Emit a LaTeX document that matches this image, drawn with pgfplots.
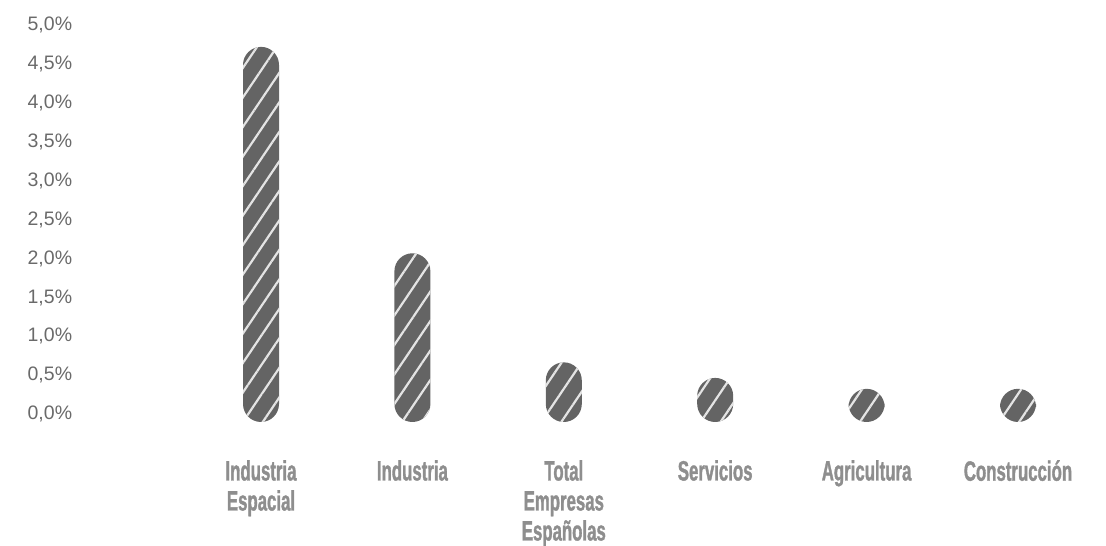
\documentclass[border=0pt]{standalone}
\usepackage{pgfplots}
\pgfplotsset{compat=1.18}
\usepackage{pgfplotstable}
\usetikzlibrary{patterns.meta}
\usepackage{fontspec}
\setmainfont{Liberation Sans}
\newfontfamily\condfont[FakeStretch=0.6,FakeBold=1.2]{Liberation Sans Bold}
\definecolor{barc}{HTML}{646464}
\definecolor{hatchc}{HTML}{E4E4E4}
\definecolor{ticklab}{HTML}{6A6A6A}
\definecolor{catlab}{HTML}{8E8E8E}

\pgfplotstableread{
x v
0 4.70
1 2.05
2 0.65
3 0.45
4 0.31
5 0.31
}\data

\begin{document}
\begin{tikzpicture}
\path[use as bounding box] (0,0) rectangle (1106pt,546pt);
\begin{axis}[
  at={(185.3pt,124pt)}, anchor=south west,
  scale only axis, width=908.4pt, height=398.5pt,
  xmin=-0.5, xmax=5.5, ymin=-0.116, ymax=5.0,
  ybar stacked, stack negative=on previous, bar width=36pt,
  axis line style={draw=none}, tick style={draw=none},
  major tick length=0pt,
  xtick={0,1,2,3,4,5},
  xticklabels={{Industria\\Espacial},Industria,{Total\\Empresas\\Españolas},Servicios,Agricultura,Construcción},
  xticklabel style={anchor=north, inner sep=0pt, yshift=-38pt, align=center,
    font=\condfont\fontsize{28}{30}\selectfont, text=catlab},
  ytick={0,0.5,1,1.5,2,2.5,3,3.5,4,4.5,5},
  yticklabels={{0,0\%},{0,5\%},{1,0\%},{1,5\%},{2,0\%},{2,5\%},{3,0\%},{3,5\%},{4,0\%},{4,5\%},{5,0\%}},
  yticklabel style={anchor=base east, inner sep=0pt, xshift=-113pt, yshift=-6.9pt,
    font=\fontsize{19.5}{21}\selectfont, text=ticklab},
  clip=false,
]
\addplot[draw=none, fill=none] coordinates {(0,-0.116) (1,-0.116) (2,-0.116) (3,-0.116) (4,-0.116) (5,-0.116)};
\addplot[draw=none, fill=barc, rounded corners=18pt,
  postaction={pattern={Lines[angle=56,distance=16.5pt,line width=2.2pt]}, pattern color=hatchc}]
  table[x=x, y expr=\thisrow{v}+0.116] {\data};
\end{axis}
\end{tikzpicture}
\end{document}
